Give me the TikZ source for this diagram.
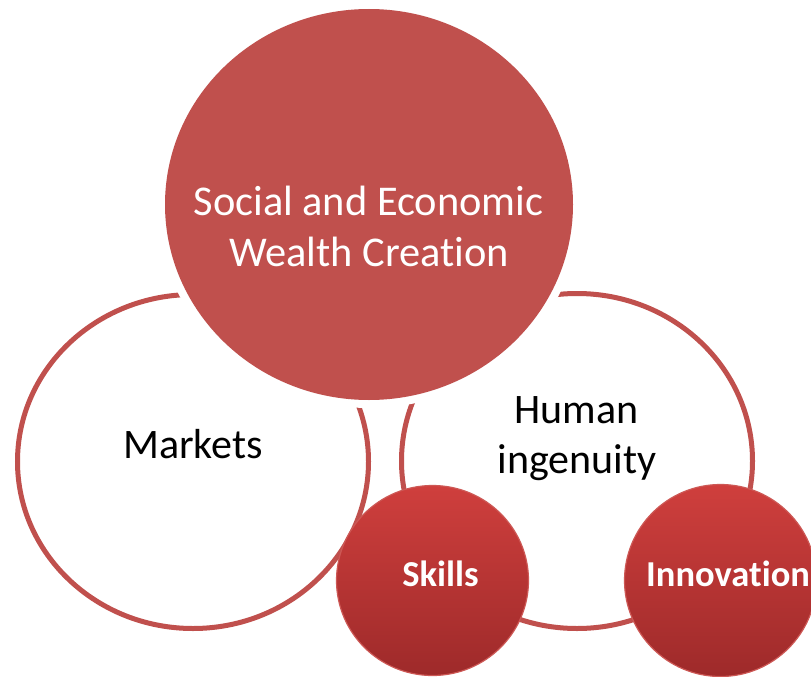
\documentclass[tikz,border=0pt]{standalone}
\usepackage{fontspec}
\setmainfont{Carlito}[RawFeature={-liga;-dlig}]
\usetikzlibrary{shapes.geometric}
\definecolor{ringred}{RGB}{192,80,77}
\definecolor{gradtop}{RGB}{207,63,61}
\definecolor{gradbot}{RGB}{158,42,42}
\definecolor{edgered}{RGB}{205,88,85}
\tikzset{
  ring/.style={ellipse, draw=ringred, line width=5pt, fill=white, inner sep=0pt},
  bigdisc/.style={ellipse, fill=ringred, inner sep=0pt},
  halo/.style={ellipse, fill=white, inner sep=0pt},
  smalldisc/.style={ellipse, draw=edgered, line width=1.2pt, top color=gradtop, bottom color=gradbot, inner sep=0pt},
  darktext/.style={font=\fontsize{42}{50}\selectfont, text=black, anchor=base, inner sep=0pt},
  lighttext/.style={font=\fontsize{42.4}{50}\selectfont, text=white, anchor=base, inner sep=0pt},
  boldtext/.style={font=\fontsize{36.5}{42}\selectfont\bfseries, text=white, anchor=base, inner sep=0pt}
}
\begin{document}
\begin{tikzpicture}[x=1pt,y=-1pt]
\useasboundingbox (0,0) rectangle (811,677);
% rings
\node[ring, minimum width=351pt, minimum height=334pt] (markets) at (193,461.5) {};
\node[ring, minimum width=351pt, minimum height=335pt] (human) at (577,461) {};
% big circle with white halo
\node[halo, minimum width=424pt, minimum height=407pt] (halo) at (369,204.5) {};
\node[bigdisc, minimum width=408pt, minimum height=391pt] (wealth) at (369,204.5) {};
% small discs
\node[smalldisc, minimum width=192pt, minimum height=190pt] (skills) at (432.5,580.5) {};
\node[smalldisc, minimum width=192pt, minimum height=192pt] (innov) at (720.5,580.5) {};
% texts
\node[lighttext] (w1) at (368.5,215) {Social and Economic};
\node[lighttext] (w2) at (369,266) {Wealth Creation};
\node[darktext] (m1) at (193,458) {Markets};
\node[darktext] (h1) at (576.5,423) {Human};
\node[darktext] (h2) at (577,473) {ingenuity};
\node[boldtext] (s1) at (440.5,586) {Skills};
\node[boldtext, anchor=base west] (i1) at (646,586) {Innovation};
\end{tikzpicture}
\end{document}
